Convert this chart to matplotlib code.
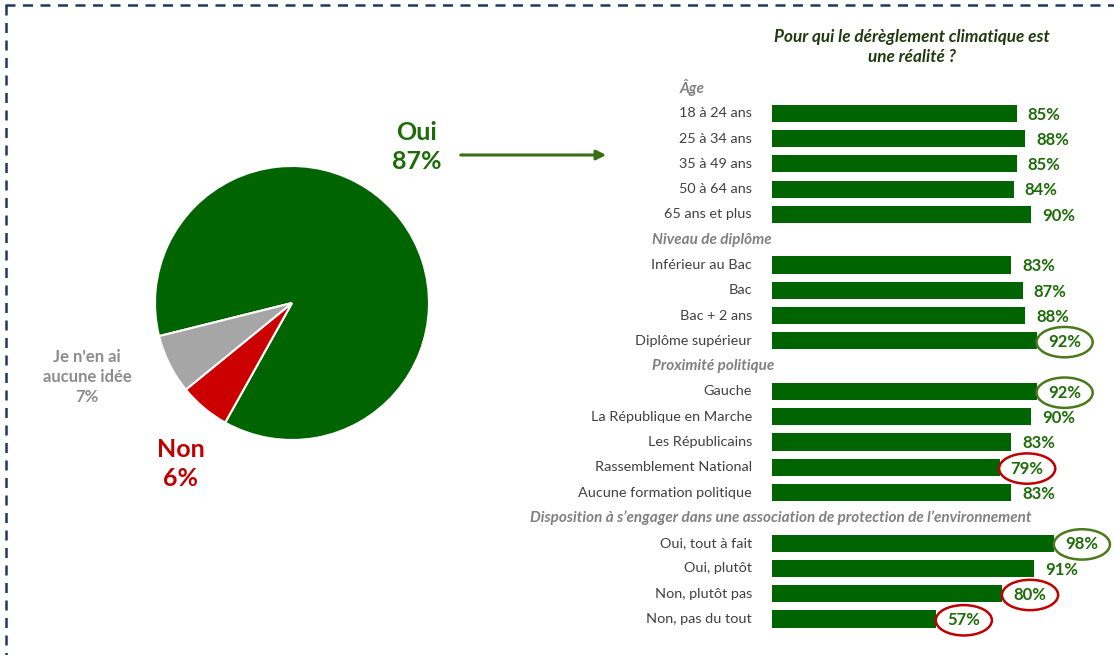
import matplotlib.pyplot as plt
from matplotlib.patches import Ellipse, FancyArrowPatch
from matplotlib.lines import Line2D

plt.rcParams['font.family'] = ['Lato', 'DejaVu Sans']

# pie data
pie_labels = ["Oui", "Non", "Je n'en ai\naucune idée"]
pie_values = [87, 6, 7]
pie_colors = ["#006400", "#CC0000", "#A6A6A6"]

# bar data, one list per group
groups = ["Âge", "Niveau de diplôme", "Proximité politique",
          "Disposition à s\u2019engager dans une association de protection de l\u2019environnement"]
group_labels = [
    ["18 à 24 ans", "25 à 34 ans", "35 à 49 ans", "50 à 64 ans", "65 ans et plus"],
    ["Inférieur au Bac", "Bac", "Bac + 2 ans", "Diplôme supérieur"],
    ["Gauche", "La République en Marche", "Les Républicains",
     "Rassemblement National", "Aucune formation politique"],
    ["Oui, tout à fait", "Oui, plutôt", "Non, plutôt pas", "Non, pas du tout"],
]
group_values = [
    [85, 88, 85, 84, 90],
    [83, 87, 88, 92],
    [92, 90, 83, 79, 83],
    [98, 91, 80, 57],
]
# highlighted values: 'g' green ring, 'r' red ring
group_marks = [
    [None, None, None, None, None],
    [None, None, None, 'g'],
    ['g', None, None, 'r', None],
    ['g', None, 'r', 'r'],
]
header_x = [-32, -41.5, -41.5, -84]

W, H = 1114, 655
fig = plt.figure(figsize=(W / 100, H / 100), dpi=100)


def fx(x):
    return x / W


def fy(y):
    return 1 - y / H


# ---- pie ----
cx, cy, r = 292, 303, 137
axp = fig.add_axes([fx(cx - r), fy(cy + r), 2 * r / W, 2 * r / H])
axp.pie(pie_values, colors=pie_colors, startangle=194, counterclock=False,
        wedgeprops=dict(edgecolor="white", linewidth=1.5))
axp.set_xlim(-1, 1)
axp.set_ylim(-1, 1)
axp.set_aspect('auto')
axp.axis('off')

fig.text(fx(417), fy(147), "Oui\n87%", color="#1E6B0A", fontsize=18, fontweight='bold',
         ha='center', va='center', linespacing=1.3)
fig.text(fx(181), fy(464), "Non\n6%", color="#C00000", fontsize=18, fontweight='bold',
         ha='center', va='center', linespacing=1.3)
fig.text(fx(87), fy(377), "Je n'en ai\naucune idée\n7%", color="#8C8C8C", fontsize=12,
         fontweight='bold', ha='center', va='center', linespacing=1.3)

fig.add_artist(FancyArrowPatch((fx(458), fy(155)), (fx(609), fy(155)),
                               transform=fig.transFigure, arrowstyle='-|>',
                               mutation_scale=14, color="#3A6E12", linewidth=2.2))

# ---- bars ----
slot = 25.3
top, bottom = 88 - slot / 2, 619 + slot / 2
axb = fig.add_axes([fx(772), fy(bottom), 288 / W, (bottom - top) / H])
axb.set_xlim(0, 100)
axb.set_ylim(21.5, -0.5)
axb.axis('off')

pos = 0
for g, name in enumerate(groups):
    axb.text(header_x[g], pos, name, ha='left', va='center', fontsize=11,
             style='italic', fontweight='bold', color="#808080", clip_on=False)
    pos += 1
    for lab, val, mk in zip(group_labels[g], group_values[g], group_marks[g]):
        axb.barh(pos, val, height=0.68, color="#006400")
        axb.text(-7, pos, lab, ha='right', va='center', fontsize=10.4, color="#404040",
                 clip_on=False)
        axb.text(val + 3.8, pos + 0.05, f"{val}%", ha='left', va='center', fontsize=12,
                 fontweight='bold', color="#1E6B0A", clip_on=False)
        if mk:
            ec = "#4A7A1A" if mk == 'g' else "#C00000"
            axb.add_patch(Ellipse((val + 9.6, pos + 0.05), 19.5, 1.2, fill=False,
                                  edgecolor=ec, linewidth=1.8, clip_on=False))
        pos += 1

fig.text(fx(912), fy(47), "Pour qui le dérèglement climatique est\nune réalité ?",
         ha='center', va='center', fontsize=12.3, style='italic', fontweight='bold',
         color="#1F3A0E", linespacing=1.35)

# dashed frame (top and left edges)
fig.add_artist(Line2D([fx(5), fx(1114)], [fy(5), fy(5)], transform=fig.transFigure,
                      color="#1F3864", linewidth=1.8, dashes=(4, 3)))
fig.add_artist(Line2D([fx(6), fx(6)], [fy(5), fy(655)], transform=fig.transFigure,
                      color="#1F3864", linewidth=1.8, dashes=(4, 3)))

fig.savefig("out.png", dpi=100)
